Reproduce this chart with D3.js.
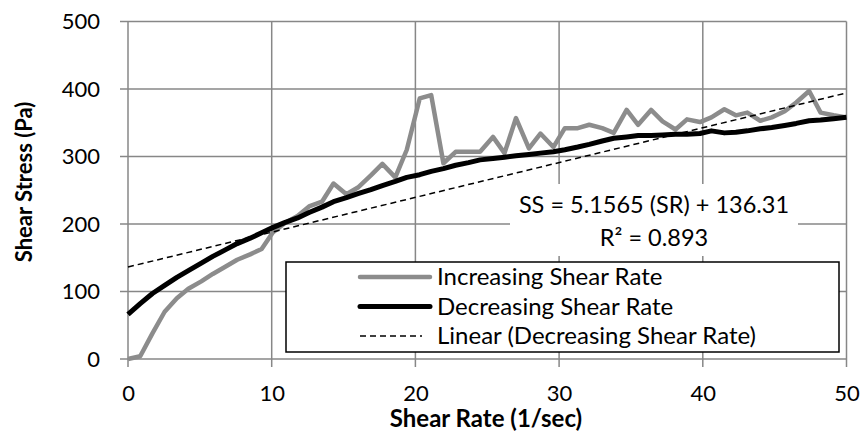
<!DOCTYPE html>
<html>
<head>
<meta charset="utf-8">
<script src="https://cdn.jsdelivr.net/npm/d3@7"></script>
<style>
  html, body { margin: 0; padding: 0; background: #fff; }
  svg { display: block; font-family: Lato, "Open Sans", sans-serif; }
</style>
</head>
<body>
<svg id="chart" width="863" height="433"></svg>
<script>
// Shear rate (1/sec) at each reading
const shearRate = [0, 0.85, 1.7, 2.55, 3.4, 4.2, 5.1, 5.9, 6.8, 7.6,
  8.5, 9.3, 10.1, 10.9, 11.8, 12.6, 13.5, 14.3, 15.2, 16.0,
  16.9, 17.7, 18.6, 19.4, 20.3, 21.1, 21.95, 22.8, 23.7, 24.5,
  25.4, 26.2, 27.0, 27.9, 28.7, 29.6, 30.4, 31.3, 32.1, 33.0,
  33.8, 34.7, 35.5, 36.4, 37.2, 38.1, 38.9, 39.8, 40.6, 41.5,
  42.3, 43.1, 44.0, 44.8, 45.7, 46.5, 47.4, 48.2, 49.1, 50];

// Shear stress (Pa) while ramping shear rate up
const increasingStress = [0, 4, 38, 70, 90, 104, 115, 126, 137, 147,
  155, 163, 188, 201, 212, 226, 233, 260, 244, 254,
  272, 289, 269, 310, 386, 391, 290, 307, 307, 307,
  329, 305, 357, 312, 334, 314, 342, 342, 347, 342,
  335, 369, 347, 369, 352, 340, 355, 351, 358, 370,
  361, 365, 353, 358, 367, 380, 397, 365, 361, 358];

// Shear stress (Pa) while ramping shear rate down
const decreasingStress = [66, 82, 97, 109, 121, 131, 142, 152, 162, 171,
  179, 187, 195, 202, 209, 217, 225, 233, 239, 245,
  251, 257, 263, 269, 273, 278, 282, 287, 291, 295,
  297, 299, 301, 303, 305, 307, 310, 314, 318, 323,
  327, 329, 331, 331, 332, 333, 333, 334, 338, 335,
  336, 338, 341, 343, 346, 349, 353, 354, 356, 358];

// Linear fit of the decreasing ramp
const fitSlope = 5.1565;
const fitIntercept = 136.31;
const fitR2 = 0.893;

const xTicks = [0, 10, 20, 30, 40, 50];
const yTicks = [0, 100, 200, 300, 400, 500];

const legendLabels = ["Increasing Shear Rate", "Decreasing Shear Rate", "Linear (Decreasing Shear Rate)"];

const svg = d3.select("#chart");
const plotLeft = 128, plotRight = 846.5, plotTop = 21.5, plotBottom = 359;
const x = d3.scaleLinear().domain([0, 50]).range([plotLeft, plotRight]);
const y = d3.scaleLinear().domain([0, 500]).range([plotBottom, plotTop]);

const gridColor = "#878787";
const tickFont = 22;
const legendFont = 24;
const eqFont = 23.5;

// Horizontal gridlines (extend past the axis as tick marks)
svg.append("g").selectAll("line").data(yTicks).join("line")
  .attr("x1", plotLeft - 8).attr("x2", plotRight)
  .attr("y1", d => y(d)).attr("y2", d => y(d))
  .attr("stroke", gridColor).attr("stroke-width", 1.5);

// Vertical gridlines (extend below the axis as tick marks)
svg.append("g").selectAll("line").data(xTicks).join("line")
  .attr("x1", d => x(d)).attr("x2", d => x(d))
  .attr("y1", plotTop).attr("y2", plotBottom + 8)
  .attr("stroke", gridColor).attr("stroke-width", 1.5);

// Tick labels through D3 axes (lines hidden, grid drawn above)
const yAxis = svg.append("g").attr("transform", `translate(${plotLeft},0)`)
  .call(d3.axisLeft(y).tickValues(yTicks).tickSize(0).tickPadding(28));
const xAxis = svg.append("g").attr("transform", `translate(0,${plotBottom})`)
  .call(d3.axisBottom(x).tickValues(xTicks).tickSize(0).tickPadding(26));
[yAxis, xAxis].forEach(g => {
  g.select(".domain").remove();
  g.selectAll("text").attr("font-size", tickFont).attr("font-family", "Lato, sans-serif").attr("fill", "#000");
});

// Axis titles
svg.append("text")
  .attr("x", 486).attr("y", 427)
  .attr("text-anchor", "middle").attr("font-size", 24).attr("font-weight", "bold")
  .text("Shear Rate (1/sec)");
svg.append("text")
  .attr("transform", `translate(32,182) rotate(-90)`)
  .attr("text-anchor", "middle").attr("font-size", 22).attr("font-weight", "bold")
  .text("Shear Stress (Pa)");

const line = d3.line().x(d => x(d[0])).y(d => y(d[1]));

// Increasing ramp
svg.append("path")
  .datum(shearRate.map((r, i) => [r, increasingStress[i]]))
  .attr("d", line).attr("fill", "none")
  .attr("stroke", "#8c8c8c").attr("stroke-width", 4.5).attr("stroke-linejoin", "round");

// Decreasing ramp
svg.append("path")
  .datum(shearRate.map((r, i) => [r, decreasingStress[i]]))
  .attr("d", line).attr("fill", "none")
  .attr("stroke", "#000").attr("stroke-width", 5).attr("stroke-linejoin", "round");

// Trend line
svg.append("path")
  .datum([0, 50].map(r => [r, fitSlope * r + fitIntercept]))
  .attr("d", line).attr("fill", "none")
  .attr("stroke", "#000").attr("stroke-width", 1.5).attr("stroke-dasharray", "6,4");

// Equation label
svg.append("rect").attr("x", 510).attr("y", 184).attr("width", 288).attr("height", 72).attr("fill", "#fff");
svg.append("text").attr("x", 654).attr("y", 213).attr("text-anchor", "middle")
  .attr("font-size", eqFont).text(`SS = ${fitSlope} (SR) + ${fitIntercept}`);
svg.append("text").attr("x", 654).attr("y", 246).attr("text-anchor", "middle")
  .attr("font-size", eqFont).text(`R² = ${fitR2}`);

// Legend
const legend = svg.append("g");
legend.append("rect").attr("x", 286).attr("y", 262).attr("width", 553).attr("height", 90)
  .attr("fill", "#fff").attr("stroke", "#000").attr("stroke-width", 1.5);
const legendStyles = [
  { stroke: "#8c8c8c", width: 4.5, dash: null, x2: 430 },
  { stroke: "#000", width: 5, dash: null, x2: 430 },
  { stroke: "#000", width: 1.5, dash: "6,4", x2: 422 }
];
const rowY = [277, 306.5, 336];
legendLabels.forEach((lab, i) => {
  const s = legendStyles[i];
  legend.append("line").attr("x1", 360).attr("x2", s.x2).attr("y1", rowY[i]).attr("y2", rowY[i])
    .attr("stroke", s.stroke).attr("stroke-width", s.width)
    .attr("stroke-dasharray", s.dash).attr("stroke-linecap", s.dash ? "butt" : "round");
  legend.append("text").attr("x", 437).attr("y", rowY[i]).attr("dy", "0.35em")
    .attr("font-size", legendFont).text(lab);
});
</script>
</body>
</html>
